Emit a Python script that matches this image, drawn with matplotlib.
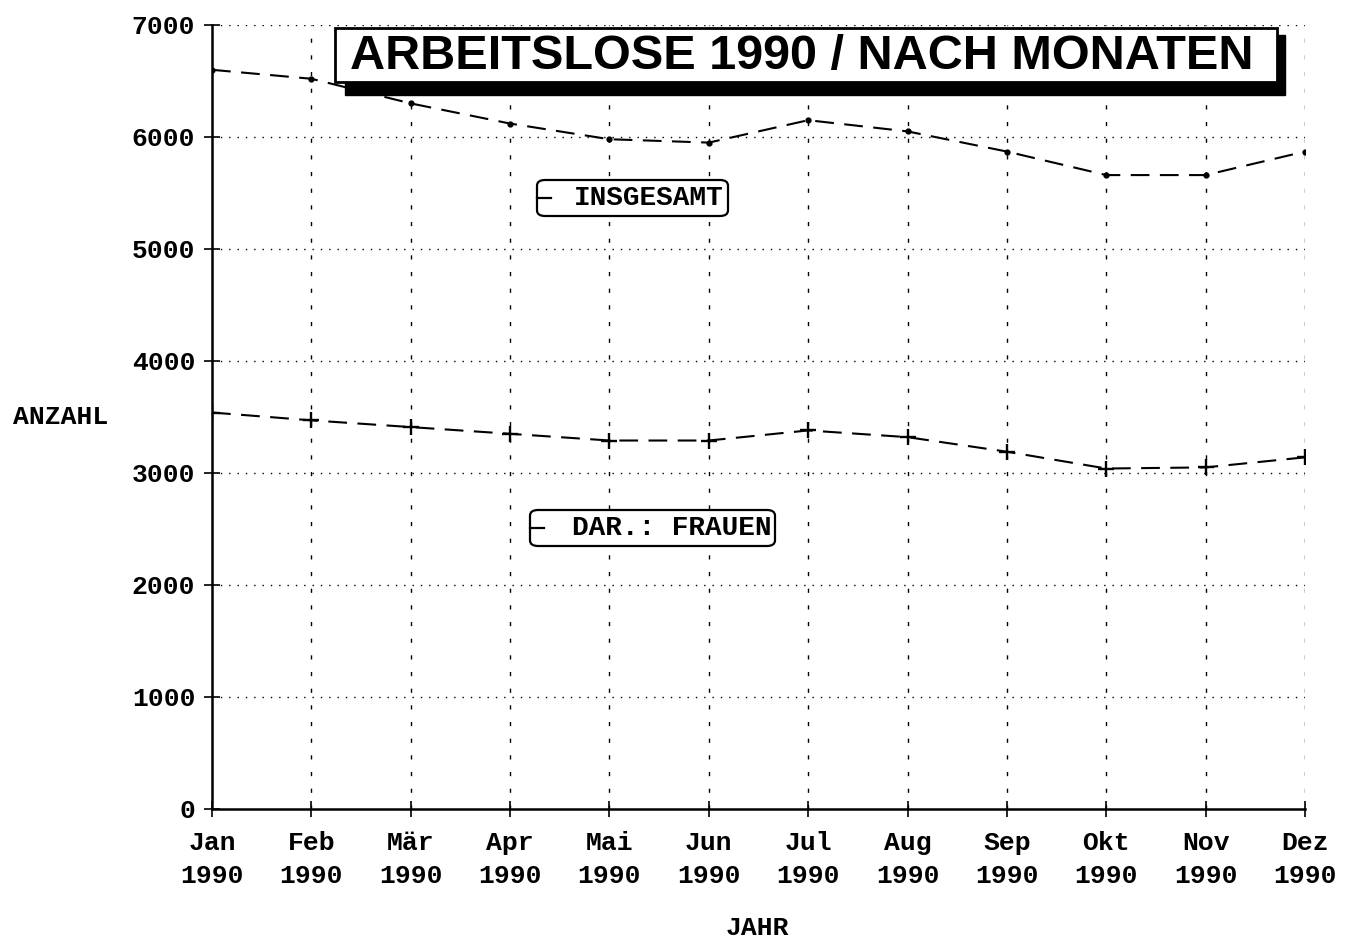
import matplotlib.pyplot as plt
from matplotlib.patches import FancyBboxPatch, Rectangle
from matplotlib.lines import Line2D

months = ["Jan", "Feb", "Mär", "Apr", "Mai", "Jun", "Jul", "Aug", "Sep", "Okt", "Nov", "Dez"]
year = "1990"
insgesamt = [6600, 6520, 6300, 6120, 5980, 5950, 6150, 6050, 5870, 5660, 5660, 5870]
frauen = [3540, 3470, 3410, 3350, 3290, 3290, 3380, 3320, 3190, 3040, 3050, 3140]
y_ticks = [0, 1000, 2000, 3000, 4000, 5000, 6000, 7000]

W, H = 1348, 941
mono = "Liberation Mono"


def fx(px):
    return px / W


def fy(py):
    return 1 - py / H


fig = plt.figure(figsize=(W / 100, H / 100), dpi=100)
ax = fig.add_axes([fx(212), fy(809), fx(1305) - fx(212), fy(25) - fy(809)])

x = list(range(len(months)))
ax.plot(x, insgesamt, color="black", lw=1.5, dashes=(9, 5), marker="o",
        markersize=3.5, zorder=3)
ax.plot(x, frauen, color="black", lw=1.5, dashes=(9, 5), marker="+",
        markersize=11, markeredgewidth=1.7, zorder=3)

ax.set_xlim(0, len(months) - 1)
ax.set_ylim(0, 7000)
ax.set_xticks(x)
ax.set_xticklabels([f"{m}\n{year}" for m in months], fontfamily=mono,
                   fontweight="bold", fontsize=19, linespacing=1.45)
ax.set_yticks(y_ticks)
ax.set_yticklabels([str(v) for v in y_ticks], fontfamily=mono,
                   fontweight="bold", fontsize=19)
ax.tick_params(axis="both", direction="inout", length=12, width=1.2, color="black")
ax.tick_params(axis="x", pad=10)
ax.tick_params(axis="y", pad=6)

for v in y_ticks[1:]:
    ax.axhline(v, color="black", lw=1.0, ls=(0, (1, 5)), zorder=1)
for i in x[1:]:
    ax.axvline(i, color="black", lw=1.0, ls=(0, (3, 9)), zorder=1)

ax.spines["top"].set_visible(False)
ax.spines["right"].set_visible(False)
ax.spines["left"].set_linewidth(1.8)
ax.spines["bottom"].set_linewidth(1.8)

fig.text(fx(61), fy(417), "ANZAHL", ha="center", va="center",
         fontfamily=mono, fontweight="bold", fontsize=19)
fig.text(fx(757), fy(928), "JAHR", ha="center", va="center",
         fontfamily=mono, fontweight="bold", fontsize=19)

# Title box with shadow
fig.patches.append(Rectangle((fx(345), fy(95)), fx(1285) - fx(345), fy(35) - fy(95),
                             transform=fig.transFigure, facecolor="black",
                             edgecolor="black", zorder=5))
fig.patches.append(Rectangle((fx(335), fy(82)), fx(1277) - fx(335), fy(28) - fy(82),
                             transform=fig.transFigure, facecolor="white",
                             edgecolor="black", lw=2, zorder=6))
fig.text(fx(802), fy(56), "ARBEITSLOSE 1990 / NACH MONATEN", ha="center",
         va="center", fontfamily="Liberation Sans", fontweight="bold",
         fontsize=35, zorder=7)


def legend_box(x0, y0, x1, y1, label):
    box = FancyBboxPatch((fx(x0), fy(y1)), fx(x1) - fx(x0), fy(y0) - fy(y1),
                         boxstyle="round,pad=0,rounding_size=0.006",
                         transform=fig.transFigure, facecolor="white",
                         edgecolor="black", lw=1.6, zorder=6)
    fig.patches.append(box)
    ym = fy((y0 + y1) / 2)
    fig.lines.append(Line2D([fx(x0), fx(x0 + 14)], [ym, ym], color="black",
                            lw=1.6, transform=fig.transFigure, zorder=7))
    fig.text(fx(x1 - 4), ym, label, ha="right", va="center", fontfamily=mono,
             fontweight="bold", fontsize=20, zorder=7)


legend_box(537, 180, 728, 216, "INSGESAMT")
legend_box(530, 510, 775, 546, "DAR.: FRAUEN")

fig.savefig("out.png", dpi=100)
